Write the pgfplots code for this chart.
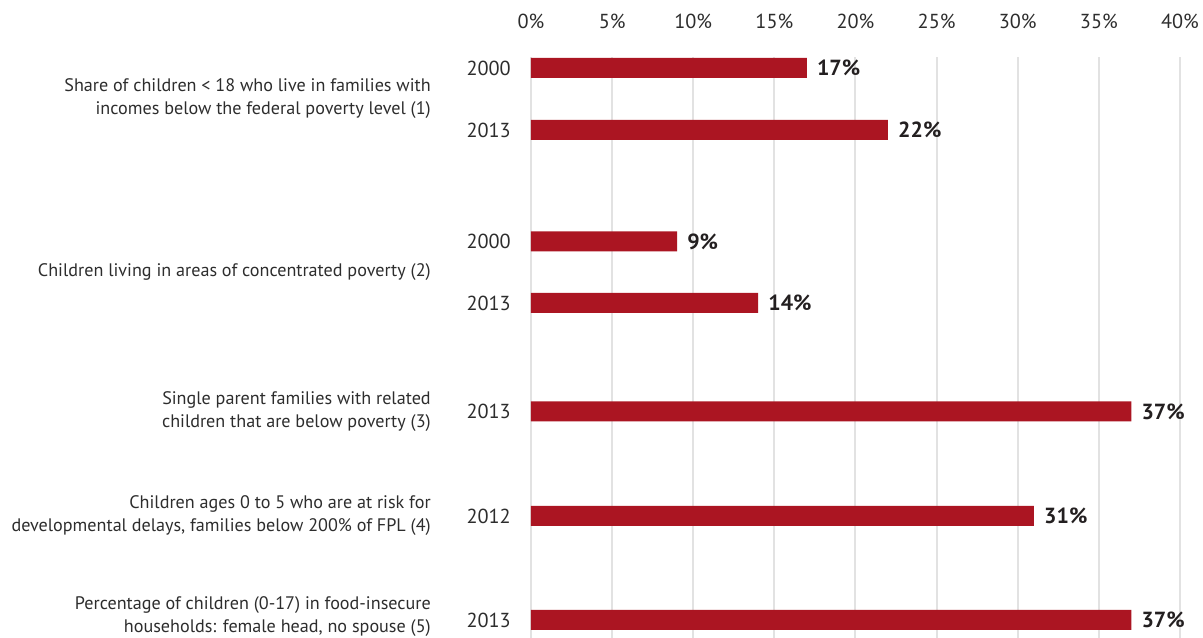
\documentclass[border=0pt]{standalone}
\usepackage{pgfplots}
\pgfplotsset{compat=1.18}
\usepackage{fontspec}
\setmainfont{PT Sans}
\definecolor{barred}{RGB}{171,21,34}
\definecolor{gridgray}{RGB}{226,226,226}
\definecolor{txt}{RGB}{45,45,45}
\definecolor{valtxt}{RGB}{35,31,32}
\newcommand{\catfont}{\fontsize{13.6}{17.25}\selectfont}
\newcommand{\tickfont}{\fontsize{15.2}{17}\selectfont}
\newcommand{\valfont}{\fontsize{16.4}{18}\selectfont\bfseries}
\begin{document}
\begin{tikzpicture}
\begin{axis}[
  scale only axis,
  width=486.75pt, height=435.75pt,
  xmin=0, xmax=40, ymin=-638, ymax=-57,
  xbar, bar width=15pt,
  axis line style={draw=none},
  xticklabel pos=upper,
  xtick={0,5,...,40},
  xticklabel={\pgfmathprintnumber{\tick}\%},
  ytick={-68,-130,-241.5,-303,-411.5,-516,-620},
  yticklabels={2000,2013,2000,2013,2013,2012,2013},
  major tick length=0pt,
  xmajorgrids,
  grid style={gridgray, line width=1.5pt},
  tick label style={font=\tickfont, text=txt},
  /pgf/number format/assume math mode=true,
  xticklabel style={inner sep=0pt, anchor=base, yshift=21.5pt},
  yticklabel style={inner sep=0pt, anchor=east, xshift=-15pt},
  clip=false,
  point meta=x,
  nodes near coords={\pgfmathprintnumber{\pgfplotspointmeta}\%},
  nodes near coords style={font=\valfont, text=valtxt, anchor=west, inner sep=0pt, xshift=7.5pt},
]
\addplot[fill=barred, draw=none] coordinates {
  (17,-68) (22,-130) (9,-241.5) (14,-303) (37,-411.5) (31,-516) (37,-620)
};
\begin{scope}[every node/.style={anchor=east, align=right, font=\catfont, text=txt, inner sep=0pt, xshift=-75pt}]
\node at (axis cs:0,-99) {Share of children < 18 who live in families with\\incomes below the federal poverty level (1)};
\node at (axis cs:0,-272) {Children living in areas of concentrated poverty (2)};
\node at (axis cs:0,-411.5) {Single parent families with related\\children that are below poverty (3)};
\node at (axis cs:0,-516) {Children ages 0 to 5 who are at risk for\\developmental delays, families below 200\% of FPL (4)};
\node at (axis cs:0,-617) {Percentage of children (0-17) in food-insecure\\households: female head, no spouse (5)};
\end{scope}
\end{axis}
\pgfresetboundingbox
\path[use as bounding box] ([xshift=-398.25pt]current axis.south west) rectangle ([xshift=17.25pt,yshift=42.75pt]current axis.north east);
\end{tikzpicture}
\end{document}
